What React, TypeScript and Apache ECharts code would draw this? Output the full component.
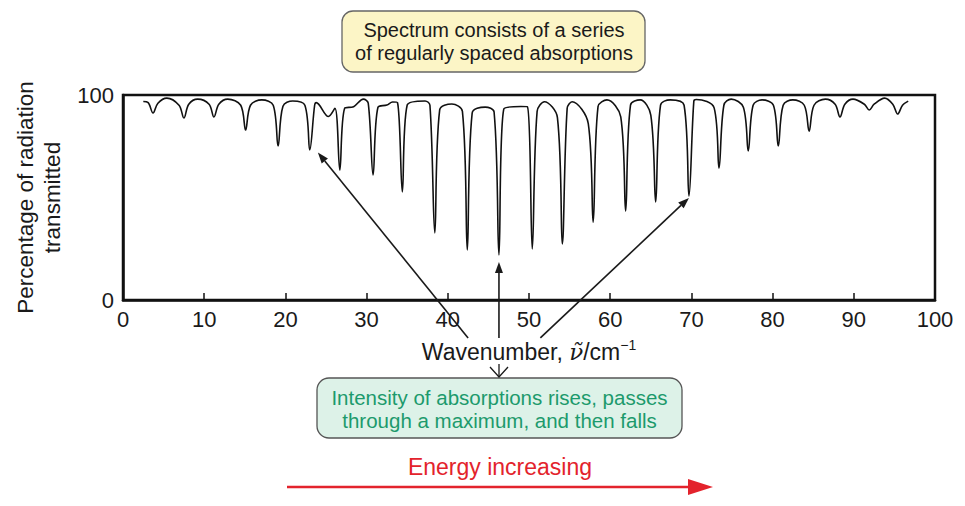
import React, { useEffect, useRef } from 'react';
import * as echarts from 'echarts';

// Absorption line centres (wavenumber / cm^-1) and their minimum transmission (%)
const lineCentres = [3.7, 7.5, 11.2, 15.1, 19.1, 23.0, 26.7, 30.8, 34.4, 38.4, 42.4, 46.3, 50.4, 54.1, 57.9, 61.9, 65.6, 69.7, 73.4, 77.0, 80.7, 84.5, 88.3, 91.9, 95.4];
const lineMinima = [91.2, 88.8, 89.3, 82.9, 75.1, 73.2, 63.4, 61.0, 52.7, 32.7, 24.4, 22.0, 24.9, 27.3, 38.0, 43.4, 47.8, 50.7, 64.4, 72.7, 75.1, 82.4, 89.3, 92.7, 90.7];
// transmission just left / right of each line (where the steep flank ends)
const kneeLeft = [96.3, 95.0, 95.5, 95.0, 95.0, 95.0, 93.5, 96.0, 96.3, 95.0, 92.0, 91.7, 94.3, 89.0, 86.0, 89.3, 90.2, 95.0, 93.7, 94.0, 95.0, 95.0, 95.5, 95.5, 95.5];
const kneeRight = [96.0, 95.5, 95.5, 95.0, 94.5, 95.0, 93.5, 94.0, 95.1, 92.7, 91.2, 93.2, 92.0, 93.5, 94.3, 95.1, 95.1, 97.0, 95.0, 95.0, 95.0, 95.0, 95.5, 95.5, 95.0];
// maxima between neighbouring lines
const gapPeakX = [5.4, 9.2, 12.9, 17.1, 20.9, 23.8, 29.6, 33.2, 37.2, 40.5, 44.6, 49.0, 51.9, 55.3, 59.6, 63.7, 67.4, 70.6, 74.9, 78.7, 82.5, 86.5, 89.9, 93.8];
const gapPeakY = [98.5, 98.0, 98.0, 97.6, 97.1, 96.3, 98.0, 96.6, 97.1, 95.6, 94.1, 94.4, 96.7, 96.7, 97.6, 97.6, 97.6, 97.8, 98.0, 97.6, 97.6, 98.0, 98.0, 98.5];
// small irregularities in the trace
const shoulderX = [25.3, 28.4, 32.5];
const shoulderY = [89.5, 94.3, 95.1];
const traceStart = [2.5, 96.8];
const traceEnd = [96.7, 97.0];

// annotation arrows (data coordinates)
const arrowTips = [[24.0, 72.0], [46.3, 18.5], [69.7, 49.8]];
const arrowTails = [[42.5, -18.5], [46.3, -18.5], [51.4, -18.5]];

const KNEE = 0.6;
const FONT = '"Liberation Sans", Arial, sans-serif';

function buildTrace(): number[][] {
  const pts: number[][] = [traceStart];
  lineCentres.forEach((c, i) => {
    pts.push([c - KNEE, kneeLeft[i]]);
    pts.push([c, lineMinima[i]]);
    pts.push([c + KNEE, kneeRight[i]]);
    if (i < gapPeakX.length) pts.push([gapPeakX[i], gapPeakY[i]]);
  });
  shoulderX.forEach((x, i) => pts.push([x, shoulderY[i]]));
  pts.push(traceEnd);
  pts.sort((a, b) => a[0] - b[0]);
  return pts;
}

function arrow(from: number[], to: number[], color: string, lw: number, len: number, hw: number): any[] {
  const dx = to[0] - from[0];
  const dy = to[1] - from[1];
  const d = Math.sqrt(dx * dx + dy * dy);
  const ux = dx / d, uy = dy / d;
  const bx = to[0] - ux * len, by = to[1] - uy * len;
  const px = -uy, py = ux;
  return [
    { type: 'line', z: 20, shape: { x1: from[0], y1: from[1], x2: bx, y2: by }, style: { stroke: color, lineWidth: lw } },
    { type: 'polygon', z: 20, shape: { points: [[to[0], to[1]], [bx + px * hw, by + py * hw], [bx - px * hw, by - py * hw]] }, style: { fill: color } },
  ];
}

export default function App() {
  const ref = useRef<HTMLDivElement>(null);
  useEffect(() => {
    if (!ref.current) return;
    const chart = echarts.init(ref.current, undefined, { renderer: 'svg' });
    const option: any = {
      animation: false,
      backgroundColor: '#ffffff',
      grid: { left: 123, right: 30, top: 95, bottom: 206, show: true, borderColor: '#111', borderWidth: 2.5, backgroundColor: 'transparent' },
      xAxis: {
        type: 'value', min: 0, max: 100, interval: 10,
        name: '{a|Wavenumber, }{v|ν\u0303}{a|/cm}{s|−1}',
        nameLocation: 'middle', nameGap: 38,
        nameTextStyle: {
          rich: {
            a: { fontSize: 23, fontFamily: FONT, color: '#1a1a1a', lineHeight: 27 },
            v: { fontSize: 23, fontFamily: '"DejaVu Serif", serif', fontStyle: 'italic', color: '#1a1a1a', lineHeight: 27 },
            s: { fontSize: 14, fontFamily: FONT, color: '#1a1a1a', lineHeight: 14, verticalAlign: 'top' },
          },
        },
        axisLine: { show: true, lineStyle: { color: '#111', width: 2.5 } },
        axisTick: { show: true, inside: true, length: 7, lineStyle: { color: '#111', width: 1.5 } },
        axisLabel: { fontSize: 22, fontFamily: FONT, color: '#1a1a1a', margin: 8 },
        splitLine: { show: false },
      },
      yAxis: {
        type: 'value', min: 0, max: 100, interval: 100,
        name: 'Percentage of radiation\ntransmitted',
        nameLocation: 'middle', nameGap: 55,
        nameTextStyle: { fontSize: 22.5, fontFamily: FONT, color: '#1a1a1a', lineHeight: 27, align: 'center' },
        axisLine: { show: true, lineStyle: { color: '#111', width: 2.5 } },
        axisTick: { show: false },
        axisLabel: { fontSize: 22, fontFamily: FONT, color: '#1a1a1a', margin: 9 },
        splitLine: { show: false },
      },
      series: [
        {
          type: 'line',
          data: buildTrace(),
          smooth: 0.35,
          showSymbol: false,
          symbol: 'none',
          lineStyle: { color: '#111', width: 1.6 },
          clip: true,
        },
      ],
    };
    chart.setOption(option);

    const toPx = (p: number[]) => chart.convertToPixel({ gridIndex: 0 }, p) as number[];
    const graphics: any[] = [];
    arrowTips.forEach((tip, i) => {
      graphics.push(...arrow(toPx(arrowTails[i]), toPx(tip), '#1a1a1a', 1.6, 11, 4));
    });
    // small arrow from axis label to the green box
    graphics.push(
      { type: 'line', z: 20, shape: { x1: 499, y1: 364, x2: 499, y2: 377 }, style: { stroke: '#1a1a1a', lineWidth: 1.3 } },
      { type: 'polyline', z: 20, shape: { points: [[490, 367], [499, 377], [508, 367]] }, style: { stroke: '#1a1a1a', lineWidth: 1.3, fill: null } },
    );
    // yellow box
    graphics.push(
      { type: 'rect', z: 15, shape: { x: 342, y: 11, width: 303, height: 61, r: 11 }, style: { fill: '#fcf5c6', stroke: '#666', lineWidth: 1.3 } },
      { type: 'text', z: 16, style: { text: 'Spectrum consists of a series\nof regularly spaced absorptions', x: 494, y: 41.5, align: 'center', verticalAlign: 'middle', fontSize: 20, fontFamily: FONT, lineHeight: 23, fill: '#1a1a1a' } },
    );
    // green box
    graphics.push(
      { type: 'rect', z: 15, shape: { x: 317, y: 378, width: 365, height: 60, r: 12 }, style: { fill: '#ddf2e8', stroke: '#555', lineWidth: 1.3 } },
      { type: 'text', z: 16, style: { text: 'Intensity of absorptions rises, passes\nthrough a maximum, and then falls', x: 499.5, y: 409, align: 'center', verticalAlign: 'middle', fontSize: 20.5, fontFamily: FONT, lineHeight: 23, fill: '#1c9a6c' } },
    );
    // energy arrow
    graphics.push(
      { type: 'text', z: 16, style: { text: 'Energy increasing', x: 500, y: 467, align: 'center', verticalAlign: 'middle', fontSize: 23, fontFamily: FONT, fill: '#e3232c' } },
      ...arrow([287, 487], [713, 487], '#e3232c', 2.6, 25, 8),
    );
    chart.setOption({ graphic: graphics });

    return () => chart.dispose();
  }, []);
  return <div ref={ref} style={{ position: 'fixed', left: 0, top: 0, width: 965, height: 506 }} />;
}
